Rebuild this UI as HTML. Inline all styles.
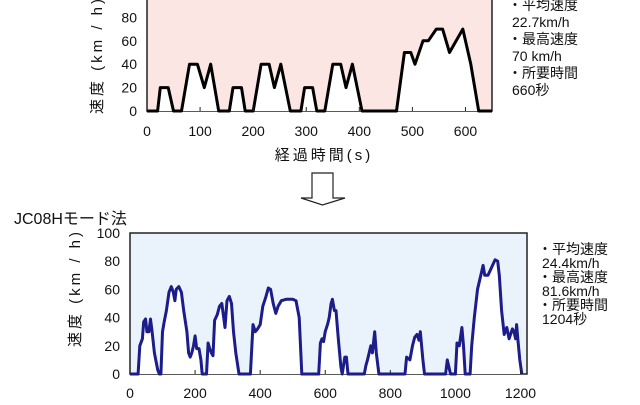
<!DOCTYPE html>
<html><head><meta charset="utf-8"><style>
body{margin:0;background:#fff;width:640px;height:400px;overflow:hidden;font-family:"Liberation Sans","Noto Sans CJK JP",sans-serif}
svg text{font-family:"Liberation Sans","Noto Sans CJK JP",sans-serif}
</style></head><body>
<svg width="640" height="400" xmlns="http://www.w3.org/2000/svg">
<g id="top"></g>
<g id="bot"></g>
<path d="M312 173 H333 V198 H345 L322.5 205 L301 198 H312 Z" fill="#fff" stroke="#222" stroke-width="1.2"/>
<text x="14" y="224" font-size="16" fill="#111">JC08Hモード法</text>
</svg>
<script>
const topTimes=[0,20,25,40,50,65,80,95,108,120,135,155,162,178,185,200,215,230,240,252,270,290,297,312,320,335,350,365,375,387,405,470,485,497,505,520,530,545,557,570,595,610,625,650];
const topSpeeds=[0,0,20,20,0,0,40,40,20,40,0,0,20,20,0,0,40,40,20,40,0,0,20,20,0,0,40,40,20,40,0,0,50,50,40,60,60,70,70,50,70,40,0,0];
const topXTicks=[0,100,200,300,400,500,600];
const yTicks=[0,20,40,60,80,100];
const topInfo=["・平均速度"," 22.7km/h","・最高速度"," 70 km/h","・所要時間"," 660秒"];
const botTimes=[0,25,30,38,42,48,52,58,63,68,75,85,90,95,100,105,112,120,127,133,138,142,150,158,165,175,180,185,190,195,200,205,212,218,222,235,240,245,250,255,260,268,275,282,288,292,298,305,312,318,325,335,370,378,385,392,400,408,418,425,432,440,448,455,465,480,500,510,520,528,580,585,590,595,600,607,612,618,622,628,633,640,648,652,660,665,670,720,725,730,740,745,752,757,765,845,850,860,868,875,882,888,892,900,905,970,975,980,985,1000,1005,1012,1020,1025,1030,1045,1050,1058,1068,1078,1085,1090,1100,1112,1122,1130,1135,1142,1150,1158,1165,1175,1180,1185,1188,1193,1198,1204];
const botSpeeds=[0,0,20,25,37,39,30,30,39,30,15,3,0,0,30,37,45,58,62,58,52,60,62,58,45,30,15,12,15,20,27,18,18,10,0,0,22,18,15,13,38,42,48,50,40,33,52,55,50,30,15,0,0,35,30,32,35,48,55,61,60,50,43,48,52,53,53,52,40,0,0,22,25,23,30,35,40,50,53,45,45,25,5,0,12,12,0,0,6,10,20,15,30,15,0,0,12,10,20,26,28,24,30,10,0,0,10,5,0,0,22,20,33,20,0,0,20,40,60,70,77,70,70,76,81,80,70,45,28,33,25,32,30,25,35,22,10,0];
const botXTicks=[0,200,400,600,800,1000,1200];
const botInfo=["・平均速度"," 24.4km/h","・最高速度"," 81.6km/h","・所要時間"," 1204秒"];
const NS="http://www.w3.org/2000/svg";
function mk(p,t,a){const e=document.createElementNS(NS,t);for(const k in a)e.setAttribute(k,a[k]);p.appendChild(e);return e;}
function chart(g,o){
  const sx=t=>o.x0+t*(o.x1-o.x0)/o.tmax, sy=v=>o.y0-v*(o.y0-o.y1)/100;
  const bg=mk(g,'rect',{x:o.x0,y:o.y1,width:o.x1-o.x0,height:o.y0-o.y1,fill:o.bg,stroke:'#222','stroke-width':1.5});
  
  let d='M'+sx(o.times[0])+' '+sy(o.speeds[0]);
  for(let i=1;i<o.times.length;i++)d+=' L'+sx(o.times[i]).toFixed(1)+' '+sy(o.speeds[i]).toFixed(1);
  const area=mk(g,'path',{d:d+' L'+sx(o.times[o.times.length-1])+' '+sy(0)+' L'+sx(o.times[0])+' '+sy(0)+'Z',fill:'#fff'});
  
  const ln=mk(g,'path',{d:d,fill:'none',stroke:o.col,'stroke-width':o.lw,'stroke-linejoin':'round'});
  
  o.xt.forEach(t=>{const tk=mk(g,'line',{x1:sx(t),x2:sx(t),y1:sy(0),y2:sy(0)-4,stroke:'#222'});
    
    const l=mk(g,'text',{x:sx(t),y:o.y0+o.xlo,'font-size':o.fs,'text-anchor':'middle',fill:'#111'});l.textContent=t;
    });
  yTicks.forEach(v=>{const l=mk(g,'text',{x:o.x0-10,y:sy(v)+5,'font-size':o.fs,'text-anchor':'end',fill:'#111'});l.textContent=v;
    });
  const yt=mk(g,'text',{x:0,y:0,'font-size':15,'letter-spacing':3,'text-anchor':'middle',fill:'#111',transform:`translate(${o.ytx},${o.yty}) rotate(-90)`});
  yt.textContent='速度 (km / h)';
  o.info.forEach((s,i)=>{const t=mk(g,'text',{x:o.ix+(i%2?4:0),y:o.iy+i*o.ih,'font-size':14,fill:'#111','xml:space':'preserve'});t.textContent=s;
    });
}
chart(document.getElementById('top'),{x0:147,x1:492,y0:111,y1:-6,tmax:650,times:topTimes,speeds:topSpeeds,xt:topXTicks,bg:'#fbe6e3',col:'#000',lw:3,fs:14,xlo:25,ytx:102,yty:55,info:topInfo,ix:508,iy:10,ih:17});
chart(document.getElementById('bot'),{x0:130,x1:527,y0:374,y1:233,tmax:1220,times:botTimes,speeds:botSpeeds,xt:botXTicks,bg:'#eaf3fb',col:'#1c1c8a',lw:3,fs:14,xlo:24,ytx:80,yty:288,info:botInfo,ix:538,iy:254,ih:14});
const xt=mk(document.getElementById('top'),'text',{x:324,y:160,'font-size':15,'text-anchor':'middle',fill:'#111','letter-spacing':'3'});
xt.textContent='経過時間(s)';


</script>
</body></html>
